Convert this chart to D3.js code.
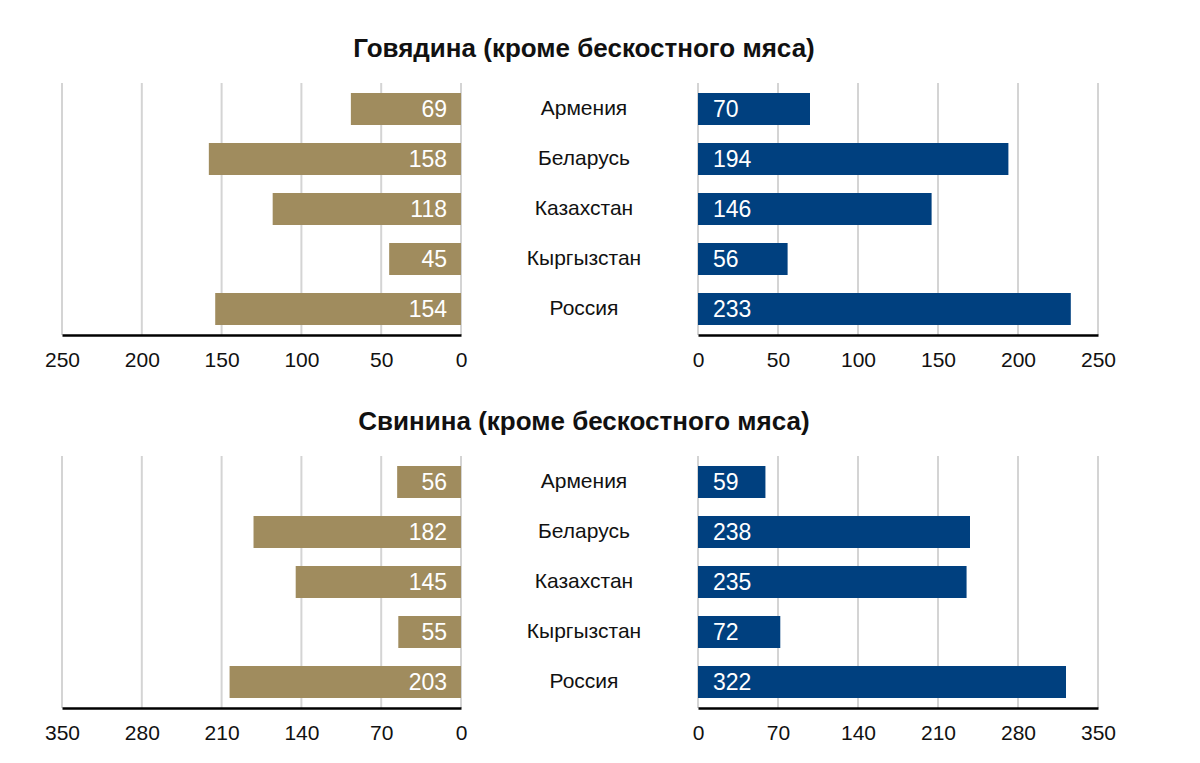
<!DOCTYPE html>
<html><head><meta charset="utf-8">
<script src="https://cdn.jsdelivr.net/npm/d3@7"></script>
<style>body{margin:0;background:#fff;}svg{display:block;font-family:"Liberation Sans",Arial,sans-serif;}</style>
</head><body>
<script>
const countries = ["Армения","Беларусь","Казахстан","Кыргызстан","Россия"];
const titles = ["Говядина (кроме бескостного мяса)","Свинина (кроме бескостного мяса)"];
const beefLeft = [69,158,118,45,154];
const beefRight = [70,194,146,56,233];
const porkLeft = [56,182,145,55,203];
const porkRight = [59,238,235,72,322];
const beefTicks = [0,50,100,150,200,250];
const porkTicks = [0,70,140,210,280,350];

const W=1200,H=763;
const svg=d3.select("body").append("svg").attr("width",W).attr("height",H);
const tan="#A08C5E", blue="#00407F";

function panel(top, title, leftVals, rightVals, ticks){
  const g=svg.append("g");
  const y0=top+33, y1=top+285;
  const max=ticks[ticks.length-1];
  const xl=d3.scaleLinear().domain([0,max]).range([461,62]);
  const xr=d3.scaleLinear().domain([0,max]).range([698,1098]);
  const y=d3.scaleBand().domain(countries).range([y0,y1]).paddingInner(0.36).paddingOuter(0.2);
  g.append("text").attr("x",584).attr("y",top+7).attr("text-anchor","middle")
   .attr("font-size",26).attr("font-weight","bold").attr("fill","#111").text(title);
  // gridlines
  [xl,xr].forEach(x=>{
    g.selectAll(null).data(ticks).enter().append("line")
     .attr("x1",d=>x(d)).attr("x2",d=>x(d)).attr("y1",y0).attr("y2",y1)
     .attr("stroke","#d4d4d4").attr("stroke-width",2);
  });
  // bars
  g.selectAll(null).data(leftVals).enter().append("rect")
   .attr("x",d=>xl(d)).attr("width",d=>xl(0)-xl(d))
   .attr("y",(d,i)=>y(countries[i])).attr("height",y.bandwidth()).attr("fill",tan);
  g.selectAll(null).data(rightVals).enter().append("rect")
   .attr("x",xr(0)).attr("width",d=>xr(d)-xr(0))
   .attr("y",(d,i)=>y(countries[i])).attr("height",y.bandwidth()).attr("fill",blue);
  // value labels
  g.selectAll(null).data(leftVals).enter().append("text")
   .attr("x",xl(0)-14).attr("y",(d,i)=>y(countries[i])+y.bandwidth()/2+8)
   .attr("text-anchor","end").attr("font-size",23).attr("fill","#fff").text(d=>d);
  g.selectAll(null).data(rightVals).enter().append("text")
   .attr("x",xr(0)+15).attr("y",(d,i)=>y(countries[i])+y.bandwidth()/2+8)
   .attr("text-anchor","start").attr("font-size",23).attr("fill","#fff").text(d=>d);
  // country labels
  g.selectAll(null).data(countries).enter().append("text")
   .attr("x",584).attr("y",d=>y(d)+y.bandwidth()/2+6)
   .attr("text-anchor","middle").attr("font-size",21).attr("fill","#111").text(d=>d);
  // axes
  const axL=d3.axisBottom(xl).tickValues(ticks).tickSize(0).tickPadding(17);
  const axR=d3.axisBottom(xr).tickValues(ticks).tickSize(0).tickPadding(17);
  [axL,axR].forEach(ax=>{
    const a=g.append("g").attr("transform",`translate(0,${y1})`).call(ax);
    a.select(".domain").attr("stroke","#000").attr("stroke-width",2.5);
    a.selectAll("text").attr("font-size",21).attr("fill","#111").attr("font-family","Liberation Sans, Arial, sans-serif");
  });
}
panel(50, titles[0], beefLeft, beefRight, beefTicks);
panel(423, titles[1], porkLeft, porkRight, porkTicks);
</script>
</body></html>
